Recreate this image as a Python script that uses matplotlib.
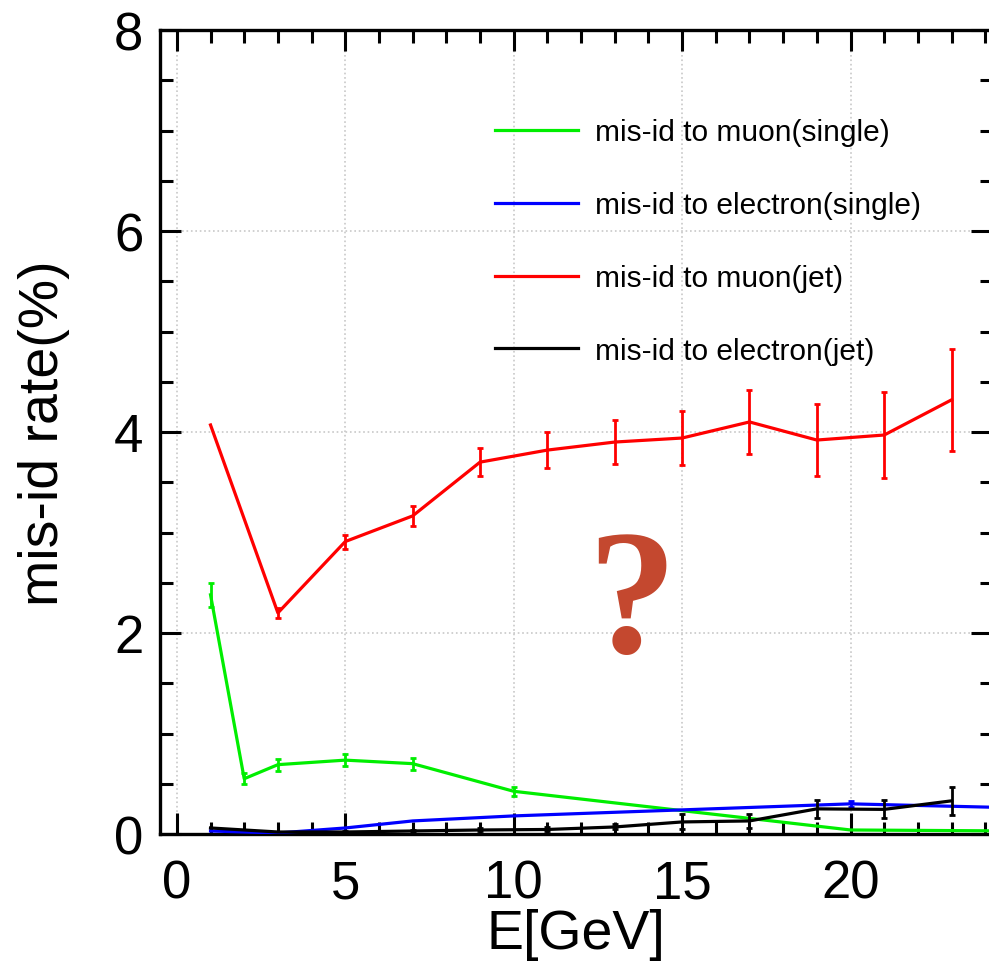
import numpy as np
import matplotlib
matplotlib.use("Agg")
import matplotlib.pyplot as plt
from matplotlib.ticker import MultipleLocator

plt.rcParams['font.family'] = ['Liberation Sans', 'DejaVu Sans']

# data (E in GeV, rate in %)
muon_single_x = [1, 2, 3, 5, 7, 10, 20, 25]
muon_single_y = [2.38, 0.55, 0.69, 0.735, 0.70, 0.425, 0.04, 0.03]
muon_single_err = [0.12, 0.055, 0.06, 0.06, 0.06, 0.045, 0.0, 0.0]

elec_single_x = [1, 3, 5, 7, 10, 15, 20, 25]
elec_single_y = [0.03, 0.01, 0.06, 0.13, 0.18, 0.24, 0.30, 0.26]
elec_single_err = [0.0, 0.0, 0.0, 0.0, 0.0, 0.0, 0.03, 0.0]

jet_x = [1, 3, 5, 7, 9, 11, 13, 15, 17, 19, 21, 23]
muon_jet_y = [4.07, 2.20, 2.91, 3.165, 3.70, 3.82, 3.90, 3.94, 4.10, 3.92, 3.97, 4.32]
muon_jet_err = [0.0, 0.05, 0.07, 0.10, 0.14, 0.18, 0.22, 0.27, 0.32, 0.36, 0.43, 0.51]
elec_jet_y = [0.06, 0.02, 0.02, 0.03, 0.04, 0.045, 0.07, 0.12, 0.13, 0.25, 0.245, 0.33]
elec_jet_err = [0.0, 0.0, 0.01, 0.01, 0.015, 0.02, 0.025, 0.075, 0.07, 0.09, 0.09, 0.14]

labels = ['mis-id to muon(single)', 'mis-id to electron(single)',
          'mis-id to muon(jet)', 'mis-id to electron(jet)']
colors = ['#00ee00', '#0000ff', '#ff0000', '#000000']

W, H = 989, 962
fig = plt.figure(figsize=(W / 100, H / 100), dpi=100)
ax = fig.add_axes([160 / W, 1 - 835 / H, 832 / W, 804 / H])

series = [
    (muon_single_x, muon_single_y, muon_single_err),
    (elec_single_x, elec_single_y, elec_single_err),
    (jet_x, muon_jet_y, muon_jet_err),
    (jet_x, elec_jet_y, elec_jet_err),
]
handles = []
for (x, y, e), c, lab in zip(series, colors, labels):
    x, y, e = np.array(x), np.array(y), np.array(e)
    h, = ax.plot(x, y, color=c, lw=2.3, label=lab, zorder=3)
    handles.append(h)
    m = e > 0  # only points that carry an error bar
    ax.errorbar(x[m], y[m], yerr=e[m], fmt='none', ecolor=c, elinewidth=2.0,
                capsize=2.5, capthick=2.0, zorder=3)

ax.set_xlim(-0.5, 24.2)
ax.set_ylim(0, 8)
ax.xaxis.set_major_locator(MultipleLocator(5))
ax.xaxis.set_minor_locator(MultipleLocator(1))
ax.yaxis.set_major_locator(MultipleLocator(2))
ax.yaxis.set_minor_locator(MultipleLocator(0.5))

ax.tick_params(which='both', direction='in', top=True, right=True, width=2.2)
ax.tick_params(which='major', length=15, labelsize=38)
ax.tick_params(axis='x', which='major', pad=18)
ax.tick_params(axis='y', which='major', pad=12)
ax.tick_params(which='minor', length=9)
for s in ax.spines.values():
    s.set_linewidth(2.4)

ax.grid(True, which='major', linestyle=':', color='#c8c8c8', lw=1.2, zorder=0)
ax.set_axisbelow(True)

ax.set_xlabel('E[GeV]', fontsize=40)
ax.set_ylabel('mis-id rate(%)', fontsize=40)
ax.xaxis.set_label_coords(0.5, -0.092)
ax.yaxis.set_label_coords(-0.108, 0.5)

ax.legend(handles=handles, loc='upper left', bbox_to_anchor=(0.4026, 0.890),
          frameon=False, fontsize=21.5, handlelength=2.78, handletextpad=0.57,
          labelspacing=1.5, borderpad=0, borderaxespad=0)

ax.text(13.5, 2.25, '?', fontsize=128, fontweight='bold', family='Liberation Serif',
        color='#c4482f', ha='center', va='center', zorder=4)

fig.savefig('out.png', dpi=100)
